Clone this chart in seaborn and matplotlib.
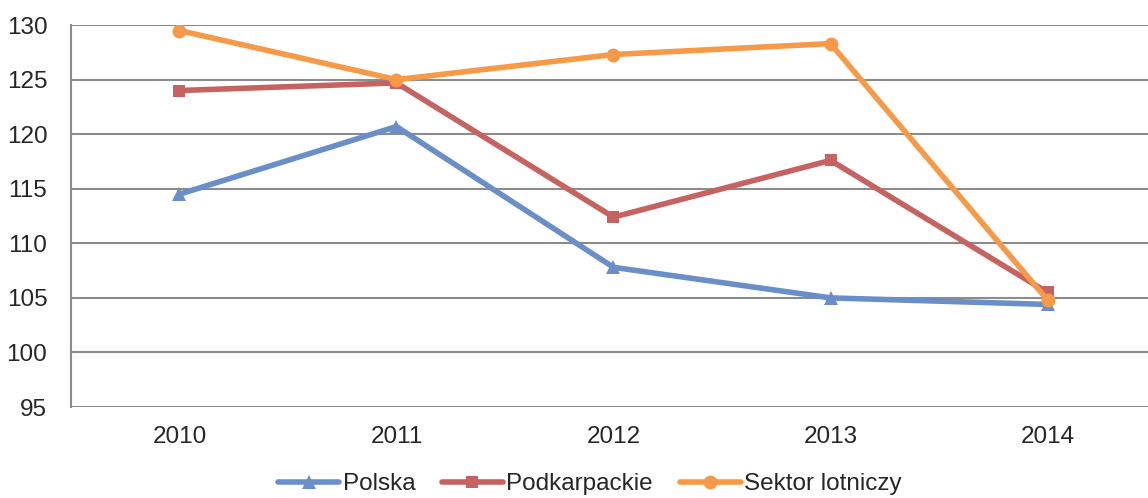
import numpy as np
import pandas as pd
import matplotlib
matplotlib.use("Agg")
import matplotlib.pyplot as plt
import seaborn as sns

# data
years = [2010, 2011, 2012, 2013, 2014]
polska = [114.5, 120.7, 107.8, 105.0, 104.4]
podkarpackie = [124.0, 124.7, 112.4, 117.6, 105.5]
sektor = [129.5, 125.0, 127.3, 128.3, 104.8]
series_names = ["Polska", "Podkarpackie", "Sektor lotniczy"]

df = pd.DataFrame({
    "rok": years * 3,
    "wartosc": polska + podkarpackie + sektor,
    "seria": [s for s in series_names for _ in years],
})

sns.set_style("white")
plt.rcParams["font.family"] = ["Liberation Sans", "DejaVu Sans"]

fig = plt.figure(figsize=(11.48, 4.98), dpi=100)
ax = fig.add_axes([0.0618, 0.1827, 0.9452, 0.767])

colors = {"Polska": "#6A8EC7", "Podkarpackie": "#C6625F", "Sektor lotniczy": "#F79A48"}
markers = {"Polska": "^", "Podkarpackie": "s", "Sektor lotniczy": "o"}
msizes = {"Polska": 10, "Podkarpackie": 9, "Sektor lotniczy": 10}

for name in series_names:
    sub = df[df["seria"] == name]
    sns.lineplot(data=sub, x="rok", y="wartosc", ax=ax, color=colors[name],
                 linewidth=4, marker=markers[name], markersize=msizes[name],
                 markeredgewidth=0, label=name, zorder=3)

ax.set_xlim(years[0] - 0.5, years[-1] + 0.5)
ax.set_ylim(95, 130)
ax.set_yticks(np.arange(95, 131, 5))
ax.set_xticks(years)
ax.set_xticks(np.arange(years[0] - 0.5, years[-1] + 0.6, 1), minor=True)
ax.set_xlabel("")
ax.set_ylabel("")

ax.grid(axis="y", color="#8C8C8C", linewidth=1.5, zorder=0)
ax.grid(axis="x", visible=False)
for s in ["top", "right"]:
    ax.spines[s].set_visible(False)
ax.spines["left"].set_color("#8C8C8C")
ax.spines["left"].set_linewidth(1.5)
ax.spines["bottom"].set_position(("data", 100))
ax.spines["bottom"].set_color("#8C8C8C")
ax.spines["bottom"].set_linewidth(1.5)

ax.tick_params(axis="x", which="major", length=0, pad=53, labelsize=17.5)
ax.tick_params(axis="x", which="minor", length=5, width=1.5, direction="in",
               color="#8C8C8C")
ax.tick_params(axis="y", length=0, pad=17, labelsize=17.5)

ax.legend(loc="center", bbox_to_anchor=(0.514, 0.028), bbox_transform=fig.transFigure,
          ncol=3, frameon=False, fontsize=17.5, handlelength=2.5, handletextpad=0.15,
          columnspacing=1.1, borderaxespad=0)

fig.savefig("out.png", dpi=100)
